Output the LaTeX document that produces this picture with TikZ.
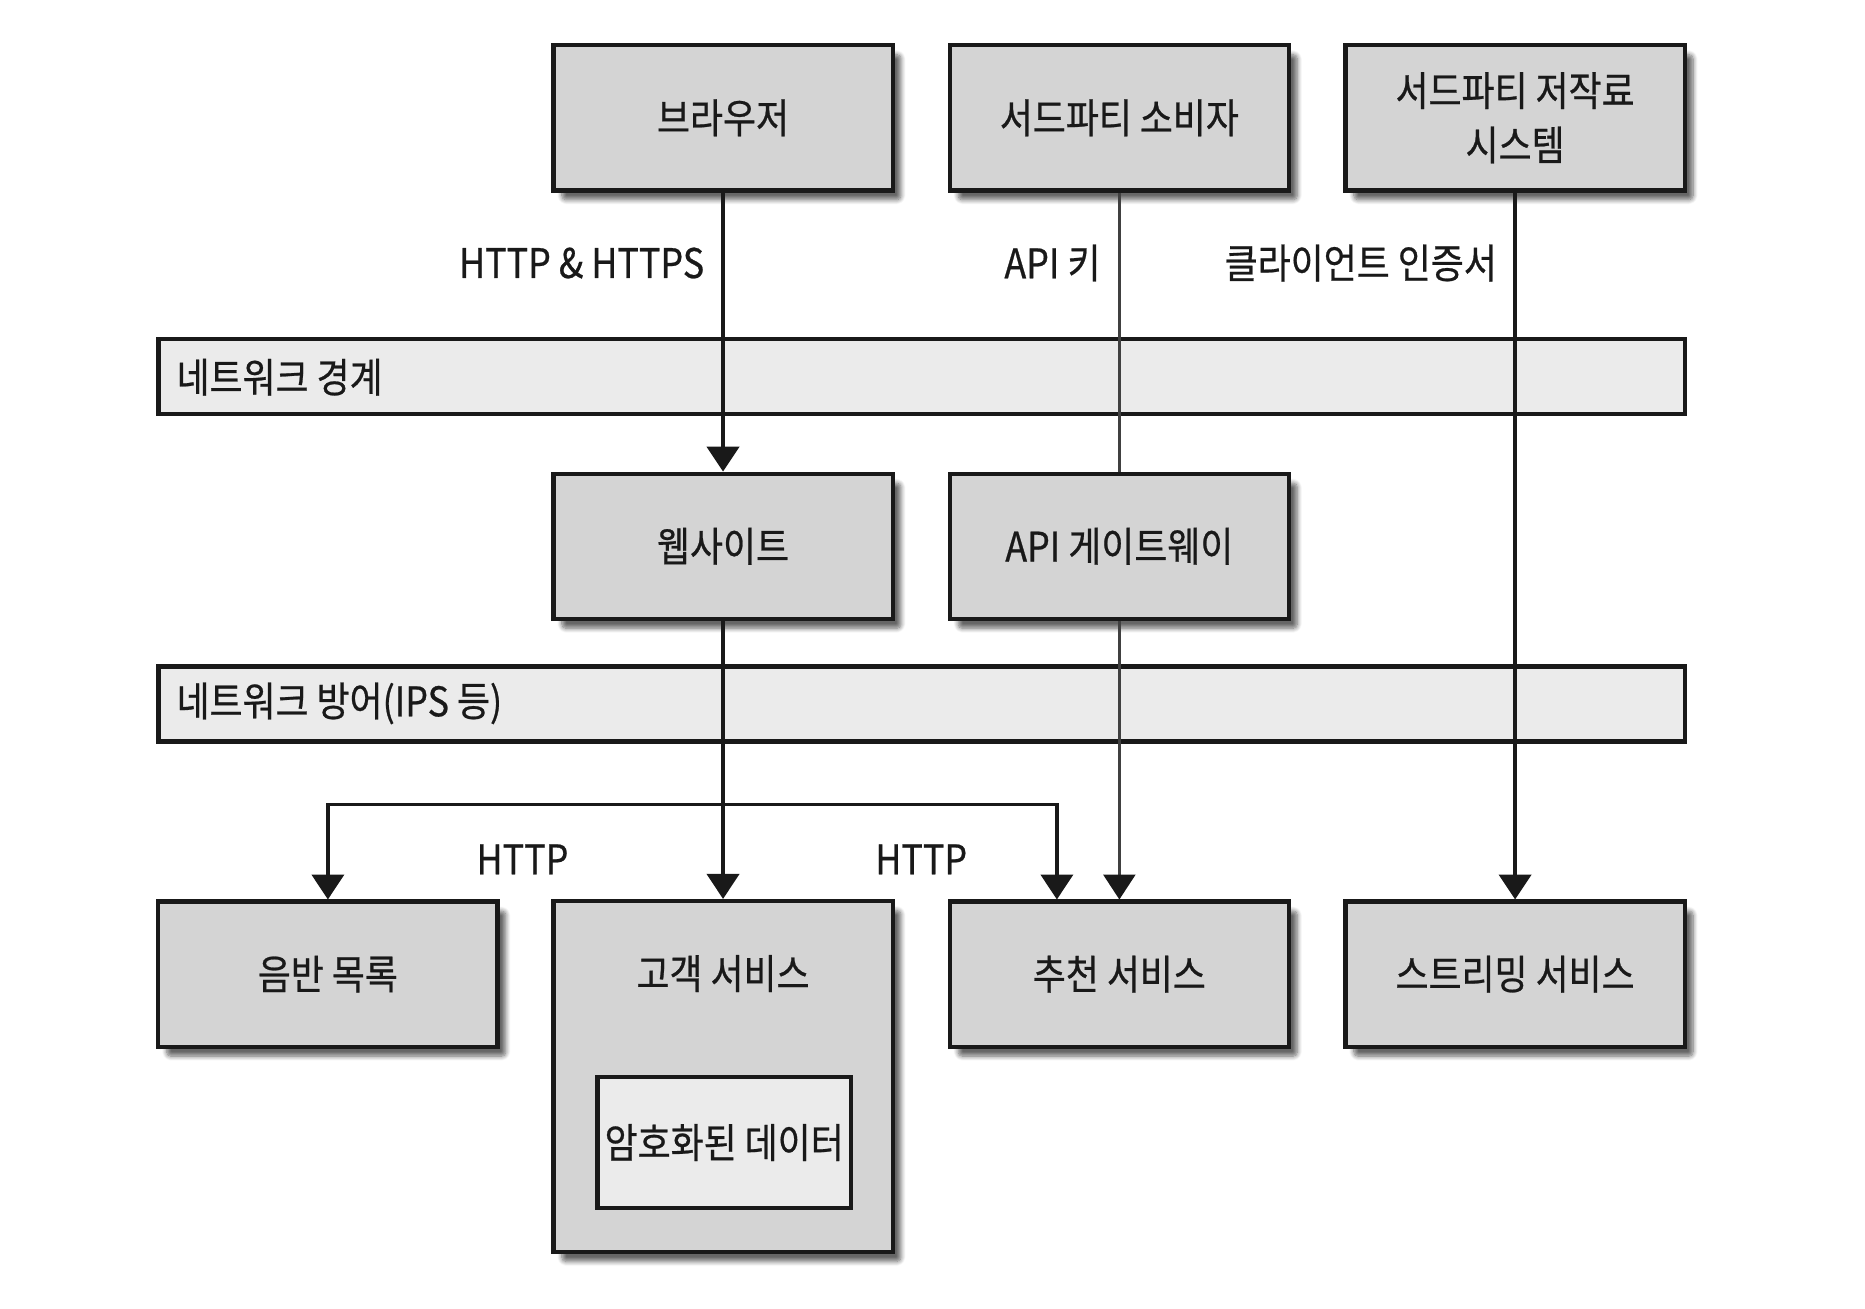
\documentclass[tikz,border=0pt]{standalone}
\usepackage{fontspec}
\setmainfont{Noto Sans CJK KR}[FakeStretch=0.88, FakeBold=0.6]
\usetikzlibrary{shadows, shadows.blur, arrows.meta, positioning, calc}

\begin{document}
\begin{tikzpicture}[x=0.02cm, y=-0.02cm,
        every node/.style={font=\fontsize{19.5}{26}\selectfont, text=black!90, inner sep=0pt},
        sysbox/.style={draw=black!90, line width=2pt, fill=black!17, minimum width=5.7cm, minimum height=2.44cm, align=center,
            blur shadow={shadow xshift=4pt, shadow yshift=-4.5pt, shadow blur steps=8, shadow blur extra rounding=2pt, shadow opacity=60}},
        band/.style={draw=black!90, line width=2pt, fill=black!8, minimum width=25.66cm, minimum height=1.26cm},
        flow/.style={line width=1.8pt, draw=black!90, -{Triangle[width=0.54cm, length=0.42cm, color=black!90]}},
        keyline/.style={line width=1.1pt, draw=black!75}]
        \useasboundingbox (0,0) rectangle (1567,1099);
        % Network bands
        \node[band] (netedge) at (774.5,316.5) {};
        \node[anchor=west] (netedgetxt) at (148,317) {네트워크 경계};
        \node[band] (netdef) at (774.5,591.5) {};
        \node[anchor=west] (netdeftxt) at (148,591) {네트워크 방어(IPS 등)};
        % Top row
        \node[sysbox] (browser) at (607.5,99) {브라우저};
        \node[sysbox] (consumer) at (940.5,99) {서드파티 소비자};
        \node[sysbox] (royalty) at (1273,99) {서드파티 저작료\\시스템};
        % Middle row
        \node[sysbox] (website) at (607.5,459) {웹사이트};
        \node[sysbox] (gateway) at (940.5,459) {API 게이트웨이};
        % Bottom row
        \node[sysbox] (catalog) at (275.5,818.5) {음반 목록};
        \node[sysbox, minimum height=5.9cm] (customer) at (607.5,904.5) {};
        \node (customertxt) at (607.5,818) {고객 서비스};
        \node[draw=black!90, line width=2pt, fill=black!8, minimum width=4.26cm, minimum height=2.2cm] (crypt) at (608.5,960) {암호화된 데이터};
        \node[sysbox] (rec) at (940.5,818.5) {추천 서비스};
        \node[sysbox] (streaming) at (1273,818.5) {스트리밍 서비스};
        % Connectors
        \draw[flow] (browser) -- (website);
        \draw[keyline] (consumer) -- (gateway);
        \draw[flow] (royalty) -- (streaming);
        \draw[flow] (website) -- (customer);
        \draw[flow, keyline] (gateway) -- (rec);
        \coordinate (fork) at (607.5,676);
        \draw[flow] (fork) -| (catalog);
        \draw[flow] (fork) -| ([xshift=-1.05cm]rec.north);
        % Labels
        \node[anchor=east] (httpsl) at (592,221) {HTTP \& HTTPS};
        \node[anchor=east] (apikey) at (925,221) {API 키};
        \node[anchor=east] (cert) at (1258,221) {클라이언트 인증서};
        \node (httpl) at (439,722) {HTTP};
        \node (httpr) at (774,722) {HTTP};
\end{tikzpicture}
\end{document}
